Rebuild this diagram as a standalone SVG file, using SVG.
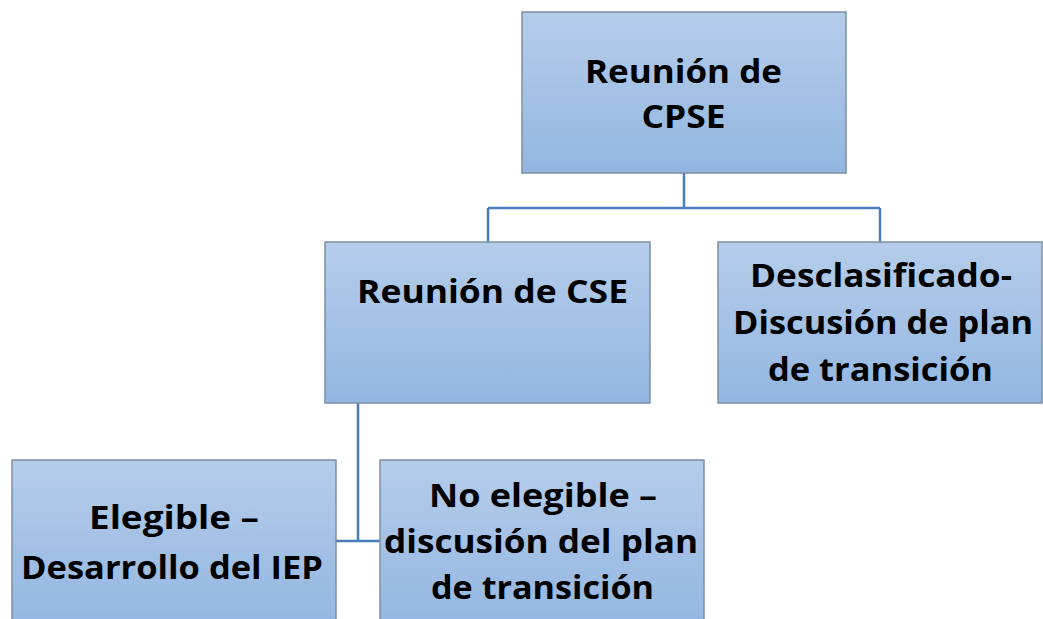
<svg xmlns="http://www.w3.org/2000/svg" width="1043" height="619" viewBox="0 0 1043 619">
<defs>
<linearGradient id="g" x1="0" y1="0" x2="0" y2="1">
<stop offset="0" stop-color="#b5cdea"/>
<stop offset="1" stop-color="#93b6e1"/>
</linearGradient>
<style>
.box{fill:url(#g);stroke:#7d8ea3;stroke-width:1.5}
.t{font-family:"Open Sans","Liberation Sans",sans-serif;font-weight:bold;font-size:33px;fill:#000;text-anchor:middle}
.c{fill:none;stroke:#4a7eba;stroke-width:2.5}
</style>
</defs>
<rect width="1043" height="619" fill="#fff"/>
<g id="connectors">
<path class="c" d="M684 173V208M488 208H880M488 208V242M880 208V242"/>
<path class="c" d="M358 403V541M336 541H380"/>
</g>
<g id="n1">
<rect class="box" x="522" y="12" width="324" height="161"/>
<text class="t" x="683.5" y="83" textLength="197" lengthAdjust="spacingAndGlyphs">Reunión de</text>
<text class="t" x="683.5" y="128" textLength="84" lengthAdjust="spacingAndGlyphs">CPSE</text>
</g>
<g id="n2">
<rect class="box" x="325" y="242" width="325" height="161"/>
<text class="t" x="492.5" y="303" textLength="271" lengthAdjust="spacingAndGlyphs">Reunión de CSE</text>
</g>
<g id="n3">
<rect class="box" x="718" y="242" width="324" height="161"/>
<text class="t" x="881" y="287" textLength="262" lengthAdjust="spacingAndGlyphs">Desclasificado-</text>
<text class="t" x="883" y="334" textLength="300" lengthAdjust="spacingAndGlyphs">Discusión de plan</text>
<text class="t" x="880.5" y="381" textLength="225" lengthAdjust="spacingAndGlyphs">de transición</text>
</g>
<g id="n4">
<rect class="box" x="12" y="460" width="324" height="165"/>
<text class="t" x="174" y="529" textLength="170" lengthAdjust="spacingAndGlyphs">Elegible –</text>
<text class="t" x="172" y="579" textLength="302" lengthAdjust="spacingAndGlyphs">Desarrollo del IEP</text>
</g>
<g id="n5">
<rect class="box" x="380" y="460" width="324" height="165"/>
<text class="t" x="543" y="507" textLength="228" lengthAdjust="spacingAndGlyphs">No elegible –</text>
<text class="t" x="541" y="553" textLength="314" lengthAdjust="spacingAndGlyphs">discusión del plan</text>
<text class="t" x="542.5" y="599" textLength="223" lengthAdjust="spacingAndGlyphs">de transición</text>
</g>
</svg>
